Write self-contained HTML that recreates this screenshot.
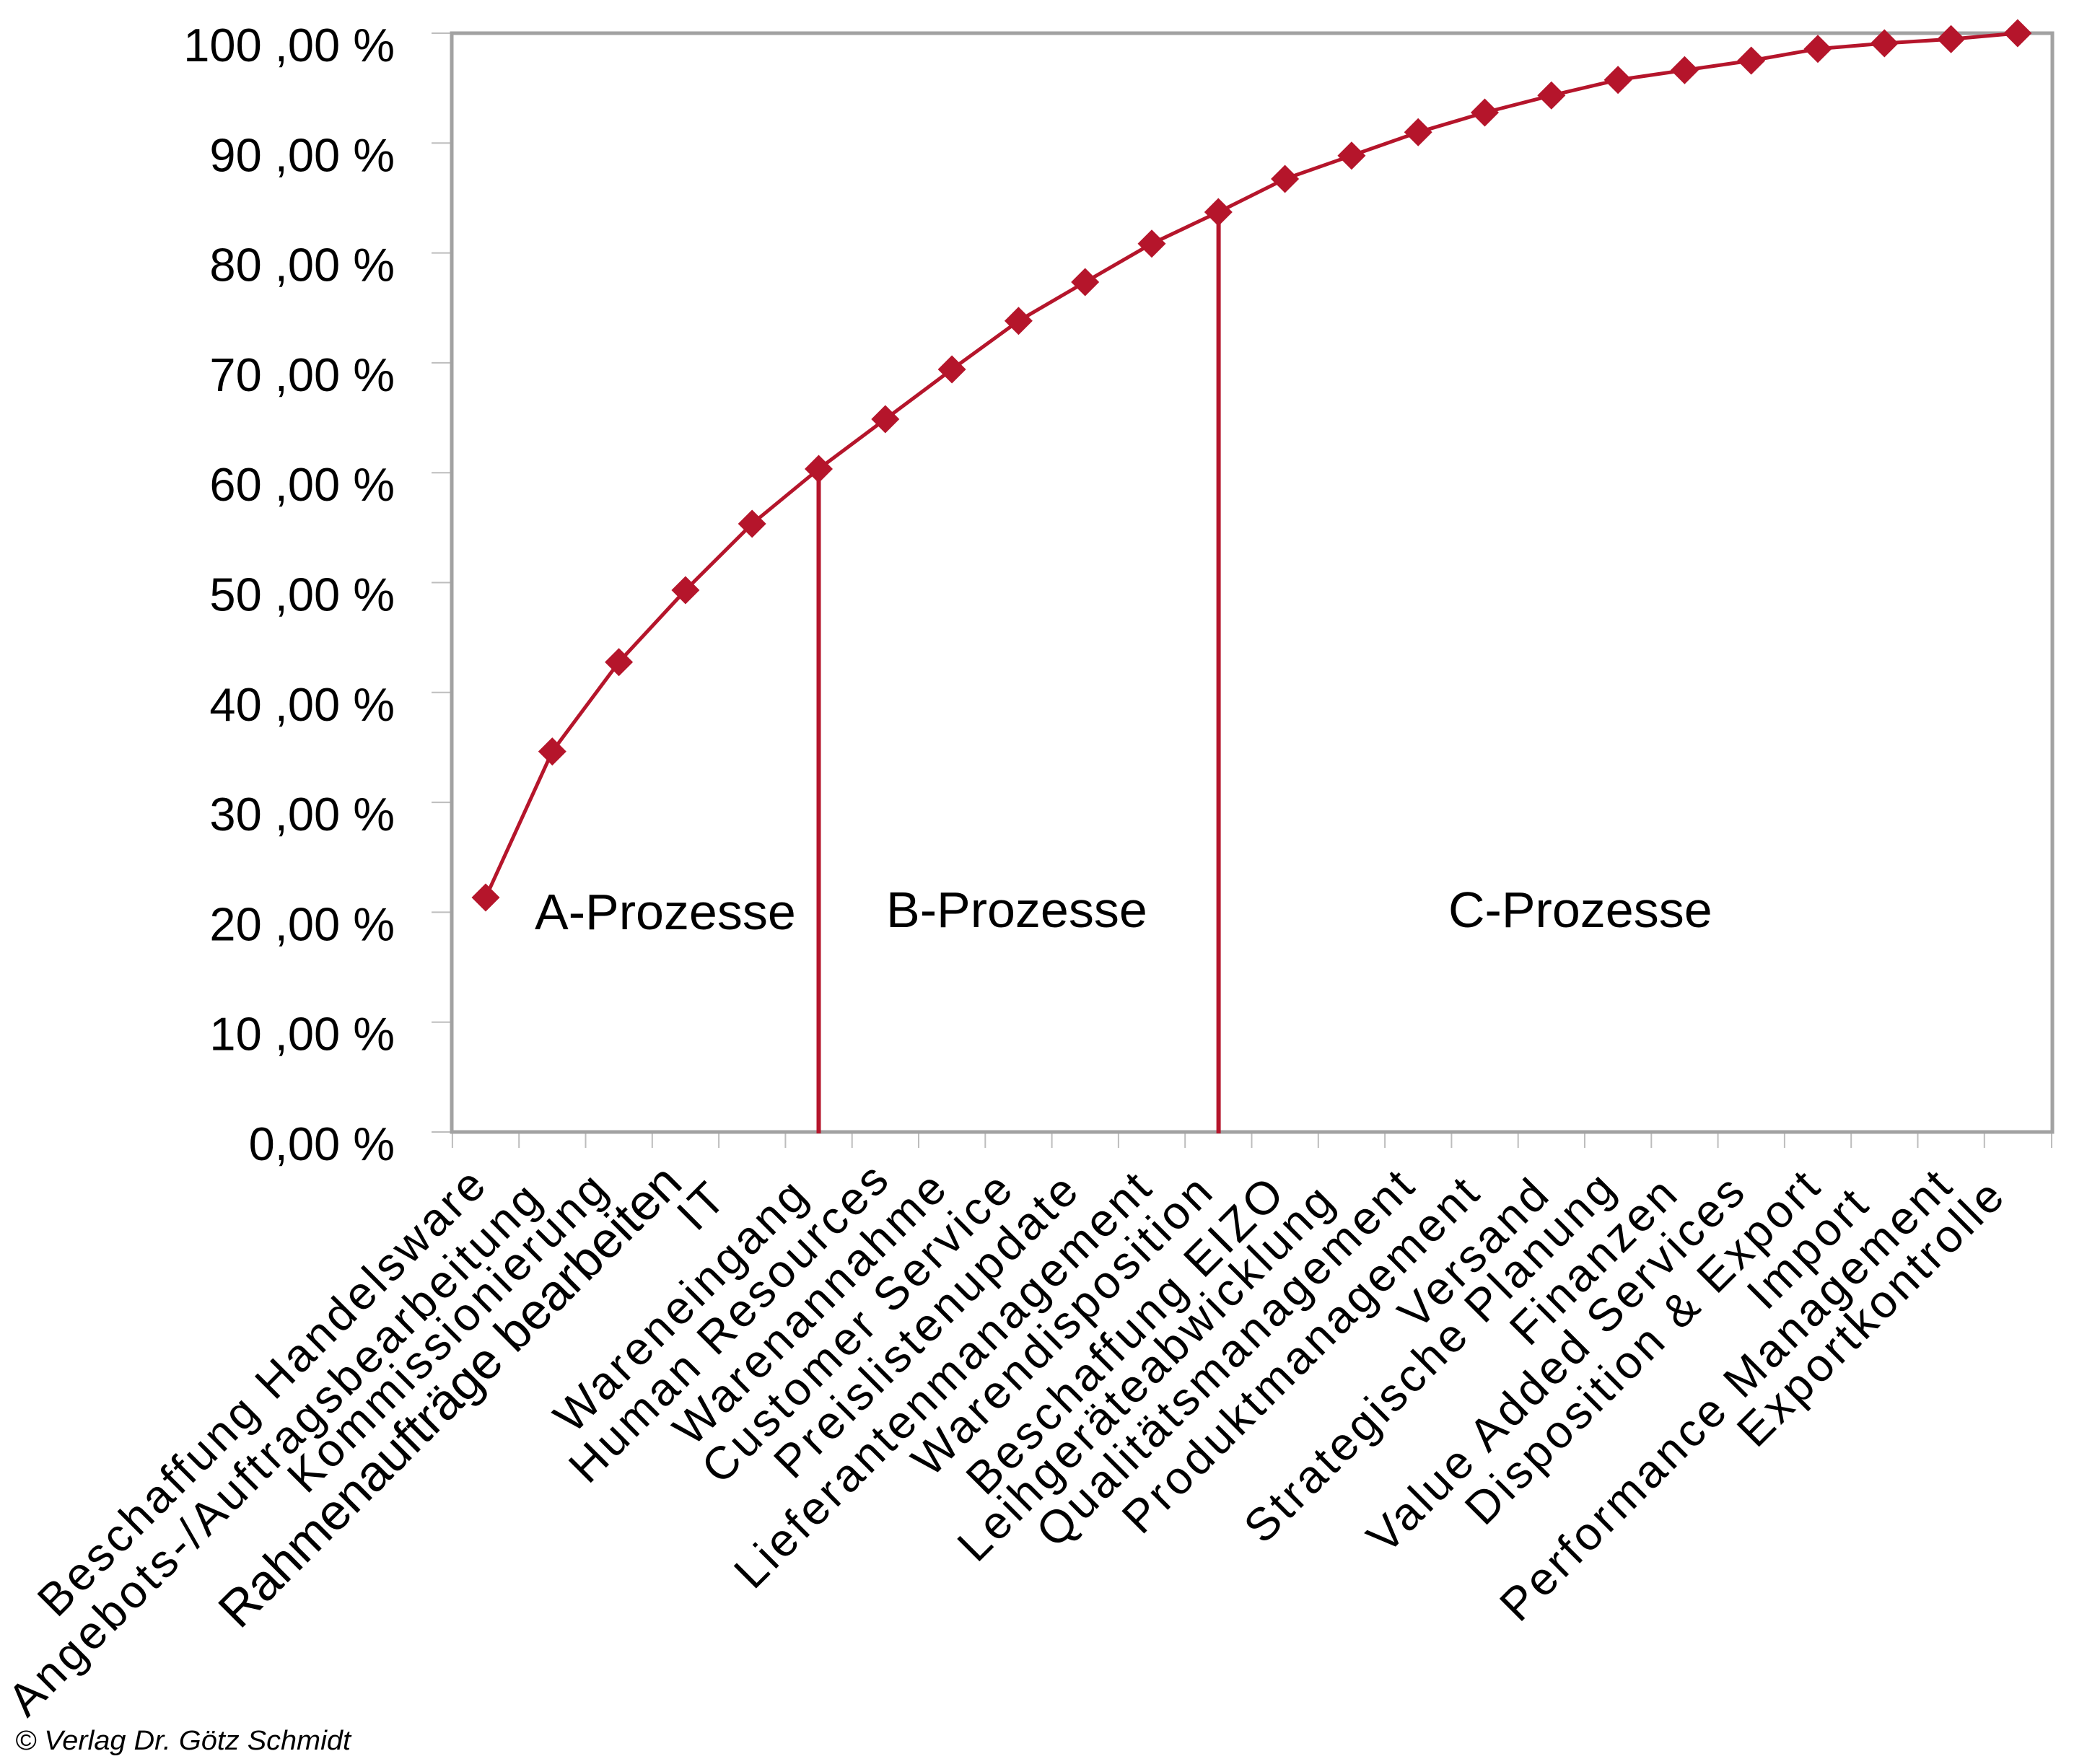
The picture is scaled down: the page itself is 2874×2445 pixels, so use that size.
<!DOCTYPE html>
<html>
<head>
<meta charset="utf-8">
<style>
html,body{margin:0;padding:0;background:#fff;}
svg{display:block;}
text{font-family:"Liberation Sans",Arial,sans-serif;fill:#000;}
</style>
</head>
<body>
<svg width="2874" height="2445" viewBox="0 0 2874 2445" xmlns="http://www.w3.org/2000/svg">
<rect x="0" y="0" width="2874" height="2445" fill="#fff"/>

<!-- y ticks -->
<g stroke="#bdbdbd" stroke-width="2">
<line x1="598" y1="1569" x2="626" y2="1569"/>
<line x1="598" y1="1416.7" x2="626" y2="1416.7"/>
<line x1="598" y1="1264.4" x2="626" y2="1264.4"/>
<line x1="598" y1="1112.1" x2="626" y2="1112.1"/>
<line x1="598" y1="959.8" x2="626" y2="959.8"/>
<line x1="598" y1="807.5" x2="626" y2="807.5"/>
<line x1="598" y1="655.2" x2="626" y2="655.2"/>
<line x1="598" y1="502.9" x2="626" y2="502.9"/>
<line x1="598" y1="350.6" x2="626" y2="350.6"/>
<line x1="598" y1="198.3" x2="626" y2="198.3"/>
<line x1="598" y1="46" x2="626" y2="46"/>
</g>
<!-- x ticks -->
<g stroke="#bdbdbd" stroke-width="2">
<line x1="626.9" y1="1569" x2="626.9" y2="1591"/>
<line x1="719.2" y1="1569" x2="719.2" y2="1591"/>
<line x1="811.5" y1="1569" x2="811.5" y2="1591"/>
<line x1="903.8" y1="1569" x2="903.8" y2="1591"/>
<line x1="996.1" y1="1569" x2="996.1" y2="1591"/>
<line x1="1088.4" y1="1569" x2="1088.4" y2="1591"/>
<line x1="1180.7" y1="1569" x2="1180.7" y2="1591"/>
<line x1="1273" y1="1569" x2="1273" y2="1591"/>
<line x1="1365.3" y1="1569" x2="1365.3" y2="1591"/>
<line x1="1457.6" y1="1569" x2="1457.6" y2="1591"/>
<line x1="1549.9" y1="1569" x2="1549.9" y2="1591"/>
<line x1="1642.2" y1="1569" x2="1642.2" y2="1591"/>
<line x1="1734.5" y1="1569" x2="1734.5" y2="1591"/>
<line x1="1826.8" y1="1569" x2="1826.8" y2="1591"/>
<line x1="1919.1" y1="1569" x2="1919.1" y2="1591"/>
<line x1="2011.4" y1="1569" x2="2011.4" y2="1591"/>
<line x1="2103.7" y1="1569" x2="2103.7" y2="1591"/>
<line x1="2196" y1="1569" x2="2196" y2="1591"/>
<line x1="2288.3" y1="1569" x2="2288.3" y2="1591"/>
<line x1="2380.6" y1="1569" x2="2380.6" y2="1591"/>
<line x1="2472.9" y1="1569" x2="2472.9" y2="1591"/>
<line x1="2565.2" y1="1569" x2="2565.2" y2="1591"/>
<line x1="2657.5" y1="1569" x2="2657.5" y2="1591"/>
<line x1="2749.8" y1="1569" x2="2749.8" y2="1591"/>
<line x1="2843" y1="1569" x2="2843" y2="1591"/>
</g>

<!-- plot box -->
<rect x="626" y="46" width="2218" height="1523" fill="none" stroke="#a2a2a2" stroke-width="5"/>

<!-- y labels -->
<g font-size="65" text-anchor="end">
<text x="547" y="85">100 ,00 %</text>
<text x="547" y="237.3">90 ,00 %</text>
<text x="547" y="389.6">80 ,00 %</text>
<text x="547" y="541.9">70 ,00 %</text>
<text x="547" y="694.2">60 ,00 %</text>
<text x="547" y="846.5">50 ,00 %</text>
<text x="547" y="998.8">40 ,00 %</text>
<text x="547" y="1151.1">30 ,00 %</text>
<text x="547" y="1303.4">20 ,00 %</text>
<text x="547" y="1455.7">10 ,00 %</text>
<text x="547" y="1608">0,00 %</text>
</g>

<!-- separator lines -->
<g stroke="#b5152b" stroke-width="6">
<line x1="1134.5" y1="650" x2="1134.5" y2="1571"/>
<line x1="1688.6" y1="294" x2="1688.6" y2="1571"/>
</g>

<!-- series -->
<polyline fill="none" stroke="#b5152b" stroke-width="5" stroke-linejoin="round"
points="673,1244 765.3,1041.6 857.6,917.7 949.9,818 1042.2,726 1134.5,650 1226.8,581 1319.1,512 1411.4,444.8 1503.7,391 1596,337.7 1688.3,294 1780.6,248 1872.9,215.7 1965.2,183.3 2057.5,156 2149.8,132.3 2242.1,110.7 2334.4,97.3 2426.7,84 2519,67.7 2611.3,60 2703.6,54.3 2795.9,46"/>

<g fill="#b5152b">
<path d="M673 1224.5 L692.5 1244 L673 1263.5 L653.5 1244 Z"/>
<path d="M765.3 1022.1 L784.8 1041.6 L765.3 1061.1 L745.8 1041.6 Z"/>
<path d="M857.6 898.2 L877.1 917.7 L857.6 937.2 L838.1 917.7 Z"/>
<path d="M949.9 798.5 L969.4 818 L949.9 837.5 L930.4 818 Z"/>
<path d="M1042.2 706.5 L1061.7 726 L1042.2 745.5 L1022.7 726 Z"/>
<path d="M1134.5 630.5 L1154 650 L1134.5 669.5 L1115 650 Z"/>
<path d="M1226.8 561.5 L1246.3 581 L1226.8 600.5 L1207.3 581 Z"/>
<path d="M1319.1 492.5 L1338.6 512 L1319.1 531.5 L1299.6 512 Z"/>
<path d="M1411.4 425.3 L1430.9 444.8 L1411.4 464.3 L1391.9 444.8 Z"/>
<path d="M1503.7 371.5 L1523.2 391 L1503.7 410.5 L1484.2 391 Z"/>
<path d="M1596 318.2 L1615.5 337.7 L1596 357.2 L1576.5 337.7 Z"/>
<path d="M1688.3 274.5 L1707.8 294 L1688.3 313.5 L1668.8 294 Z"/>
<path d="M1780.6 228.5 L1800.1 248 L1780.6 267.5 L1761.1 248 Z"/>
<path d="M1872.9 196.2 L1892.4 215.7 L1872.9 235.2 L1853.4 215.7 Z"/>
<path d="M1965.2 163.8 L1984.7 183.3 L1965.2 202.8 L1945.7 183.3 Z"/>
<path d="M2057.5 136.5 L2077 156 L2057.5 175.5 L2038 156 Z"/>
<path d="M2149.8 112.8 L2169.3 132.3 L2149.8 151.8 L2130.3 132.3 Z"/>
<path d="M2242.1 91.2 L2261.6 110.7 L2242.1 130.2 L2222.6 110.7 Z"/>
<path d="M2334.4 77.8 L2353.9 97.3 L2334.4 116.8 L2314.9 97.3 Z"/>
<path d="M2426.7 64.5 L2446.2 84 L2426.7 103.5 L2407.2 84 Z"/>
<path d="M2519 48.2 L2538.5 67.7 L2519 87.2 L2499.5 67.7 Z"/>
<path d="M2611.3 40.5 L2630.8 60 L2611.3 79.5 L2591.8 60 Z"/>
<path d="M2703.6 34.8 L2723.1 54.3 L2703.6 73.8 L2684.1 54.3 Z"/>
<path d="M2795.9 26.5 L2815.4 46 L2795.9 65.5 L2776.4 46 Z"/>
</g>

<!-- region labels -->
<g font-size="70">
<text x="741" y="1288">A-Prozesse</text>
<text x="1228" y="1285">B-Prozesse</text>
<text x="2007" y="1285">C-Prozesse</text>
</g>

<!-- x labels -->
<g font-size="64" letter-spacing="4.5" text-anchor="end" transform="translate(-7,-17)">
<text transform="translate(686.5,1660.5) rotate(-45)">Beschaffung Handelsware</text>
<text transform="translate(763.5,1680.5) rotate(-45)">Angebots-/Auftragsbearbeitung</text>
<text transform="translate(855,1666.5) rotate(-45)">Kommissionierung</text>
<text transform="translate(955.5,1660.5) rotate(-45)" font-size="70" letter-spacing="0">Rahmenaufträge bearbeiten</text>
<text transform="translate(1018.5,1679.5) rotate(-45)">IT</text>
<text transform="translate(1132,1675.5) rotate(-45)">Wareneingang</text>
<text transform="translate(1244.5,1653.5) rotate(-45)">Human Resources</text>
<text transform="translate(1325,1665.5) rotate(-45)">Warenannahme</text>
<text transform="translate(1416.5,1666.5) rotate(-45)">Customer Service</text>
<text transform="translate(1507.5,1668.5) rotate(-45)">Preislistenupdate</text>
<text transform="translate(1608.6,1665) rotate(-45)">Lieferantenmanagement</text>
<text transform="translate(1693.5,1670.5) rotate(-45)">Warendisposition</text>
<text transform="translate(1792.5,1672.5) rotate(-45)">Beschaffung EIZO</text>
<text transform="translate(1862,1683.5) rotate(-45)">Leihgeräteabwicklung</text>
<text transform="translate(1973,1662) rotate(-45)">Qualitätsmanagement</text>
<text transform="translate(2063,1672) rotate(-45)">Produktmanagement</text>
<text transform="translate(2159.5,1674.5) rotate(-45)">Versand</text>
<text transform="translate(2251.5,1665.5) rotate(-45)">Strategische Planung</text>
<text transform="translate(2337.5,1673.5) rotate(-45)">Finanzen</text>
<text transform="translate(2431,1670.5) rotate(-45)">Value Added Services</text>
<text transform="translate(2535,1663) rotate(-45)">Disposition &amp; Export</text>
<text transform="translate(2602,1688) rotate(-45)">Import</text>
<text transform="translate(2718,1662) rotate(-45)">Performance Management</text>
<text transform="translate(2790.5,1676.5) rotate(-45)">Exportkontrolle</text>
</g>

<!-- copyright -->
<text x="21" y="2425" font-size="38" font-style="italic" textLength="465" lengthAdjust="spacingAndGlyphs">© Verlag Dr. Götz Schmidt</text>
</svg>
</body>
</html>
